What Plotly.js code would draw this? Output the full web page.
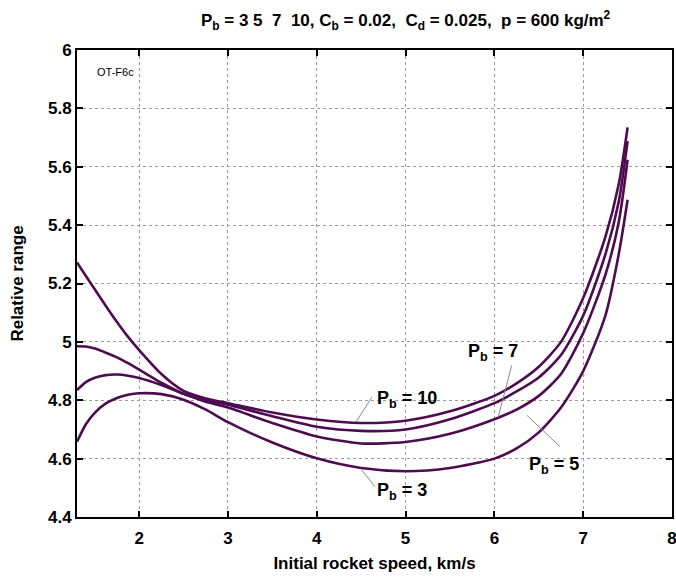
<!DOCTYPE html>
<html>
<head>
<meta charset="utf-8">
<script src="https://cdn.plot.ly/plotly-3.0.1.min.js"></script>
<style>html,body{margin:0;padding:0;background:#fff;}#chart{width:676px;height:577px;}</style>
</head>
<body>
<div id="chart"></div>
<script>
const speed = [1.3, 1.4, 1.5, 1.625, 1.75, 1.875, 2, 2.25, 2.5, 2.75, 3, 3.5, 4, 4.5, 5, 5.5, 6, 6.25, 6.5, 6.75, 7, 7.25, 7.4, 7.5];
const rangePb10 = [5.272, 5.226, 5.180, 5.123, 5.068, 5.017, 4.972, 4.890, 4.832, 4.806, 4.790, 4.758, 4.734, 4.722, 4.730, 4.762, 4.815, 4.858, 4.915, 5.000, 5.150, 5.360, 5.540, 5.735];
const rangePb7  = [4.985, 4.984, 4.977, 4.963, 4.947, 4.927, 4.905, 4.860, 4.822, 4.800, 4.785, 4.745, 4.709, 4.695, 4.700, 4.735, 4.790, 4.830, 4.878, 4.955, 5.090, 5.300, 5.480, 5.688];
const rangePb5  = [4.835, 4.862, 4.877, 4.886, 4.888, 4.884, 4.876, 4.852, 4.822, 4.795, 4.775, 4.722, 4.676, 4.652, 4.657, 4.685, 4.735, 4.768, 4.815, 4.890, 5.030, 5.230, 5.410, 5.624];
const rangePb3  = [4.658, 4.718, 4.757, 4.789, 4.808, 4.819, 4.824, 4.821, 4.802, 4.768, 4.725, 4.655, 4.601, 4.568, 4.557, 4.568, 4.600, 4.635, 4.690, 4.775, 4.900, 5.090, 5.300, 5.487];

const xTicks = [2, 3, 4, 5, 6, 7, 8];
const yTicks = [4.4, 4.6, 4.8, 5, 5.2, 5.4, 5.6, 5.8, 6];
const yTickText = ["4.4", "4.6", "4.8", "5", "5.2", "5.4", "5.6", "5.8", "6"];

// label texts and positions
const labelText = ["P<sub>b</sub> = 10", "P<sub>b</sub> = 7", "P<sub>b</sub> = 5", "P<sub>b</sub> = 3"];
const labelX = [4.66, 5.985, 6.67, 4.954];
const labelY = [4.804, 4.962, 4.575, 4.486];
const labelAnchor = ["left", "center", "center", "center"];
const leaderX0 = [4.442, 6.044, 6.364, 4.506];
const leaderY0 = [4.726, 4.743, 4.749, 4.561];
const leaderX1 = [4.619, 6.195, 6.739, 4.656];
const leaderY1 = [4.810, 4.920, 4.641, 4.504];

const lineColor = '#4e0c50';
const fontFam = 'Liberation Sans, Arial, sans-serif';

const series = [rangePb10, rangePb7, rangePb5, rangePb3];
const traces = series.map(function (ys) {
  return {
    x: speed, y: ys, type: 'scatter', mode: 'lines',
    line: {color: lineColor, width: 2.6, shape: 'spline', smoothing: 0.7},
    hoverinfo: 'skip', showlegend: false
  };
});

const annotations = labelText.map(function (t, i) {
  return {
    x: labelX[i], y: labelY[i], xref: 'x', yref: 'y', text: t, showarrow: false,
    xanchor: labelAnchor[i], yanchor: 'middle',
    font: {family: fontFam, size: 18, color: '#000', weight: 'bold'}
  };
});
annotations.push({
  x: 0.03, y: 0.97, xref: 'paper', yref: 'paper', xanchor: 'left', yanchor: 'top',
  text: 'OT-F6c', showarrow: false,
  font: {family: fontFam, size: 11, color: '#000'}
});

const shapes = leaderX0.map(function (x0, i) {
  return {
    type: 'line', xref: 'x', yref: 'y', x0: x0, y0: leaderY0[i], x1: leaderX1[i], y1: leaderY1[i],
    line: {color: '#8a8a8a', width: 1}
  };
});

const axisCommon = {
  showline: true, linecolor: '#000', linewidth: 2, mirror: 'ticks',
  ticks: 'inside', ticklen: 6, tickwidth: 2, tickcolor: '#000',
  showgrid: true, gridcolor: '#9a9a9a', gridwidth: 1, griddash: 'dot',
  zeroline: false, ticklabeloverflow: 'allow',
  tickfont: {family: fontFam, size: 17, color: '#000', weight: 'bold'}
};

const layout = {
  width: 676, height: 577,
  margin: {l: 77, r: 4, t: 50, b: 60},
  paper_bgcolor: '#fff', plot_bgcolor: '#fff',
  title: {
    text: 'P<sub>b</sub> = 3 5  7  10, C<sub>b</sub> = 0.02,  C<sub>d</sub> = 0.025,  p = 600 kg/m<sup>2</sup>',
    font: {family: fontFam, size: 17, color: '#000', weight: 'bold'},
    x: 0.6, xanchor: 'center', y: 0.965, yanchor: 'middle'
  },
  xaxis: Object.assign({}, axisCommon, {
    range: [1.3, 8], tickvals: xTicks, ticktext: xTicks.map(String),
    ticklabelstandoff: 5,
    title: {text: 'Initial rocket speed, km/s', standoff: 10,
      font: {family: fontFam, size: 17, color: '#000', weight: 'bold'}}
  }),
  yaxis: Object.assign({}, axisCommon, {
    range: [4.4, 6], tickvals: yTicks, ticktext: yTickText,
    title: {text: 'Relative range', standoff: 20,
      font: {family: fontFam, size: 17, color: '#000', weight: 'bold'}}
  }),
  annotations: annotations,
  shapes: shapes
};

Plotly.newPlot('chart', traces, layout, {staticPlot: true, displayModeBar: false});
</script>
</body>
</html>
